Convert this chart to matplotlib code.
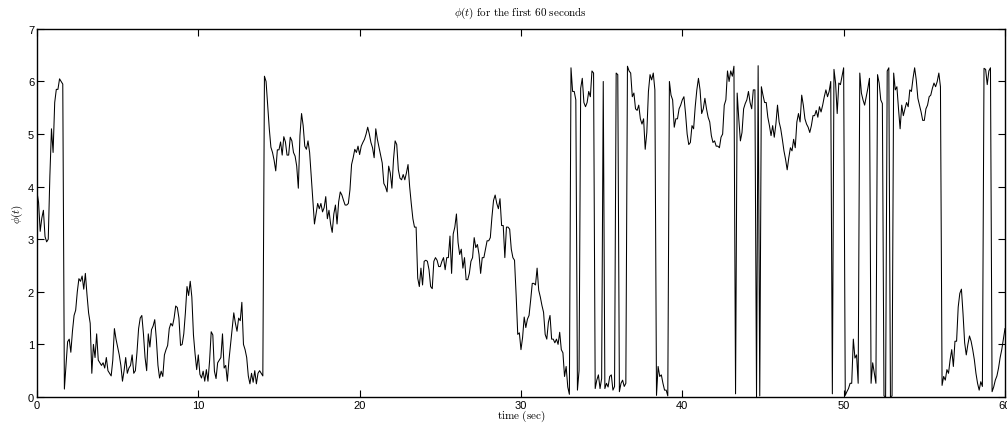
# Recreates a MATLAB-style plot of phi(t) for the first 60 seconds.

import numpy as np
import matplotlib
matplotlib.use("Agg")
import matplotlib.pyplot as plt

plt.rcParams["mathtext.fontset"] = "cm"
plt.rcParams["font.family"] = ["Liberation Sans", "DejaVu Sans"]

DT = 0.1

phi = [
    3.9, 3.7, 3.15, 3.4, 3.55, 3.05, 2.95, 3.0, 4.2, 5.1,          # 0
    4.65, 5.6, 5.85, 5.85, 6.05, 6.0, 5.95, 0.15, 0.6, 1.05,       # 1
    1.1, 0.85, 1.25, 1.55, 1.65, 2.0, 2.25, 2.2, 2.3, 2.05,        # 2
    2.35, 1.95, 1.6, 1.4, 0.45, 1.0, 0.75, 1.2, 0.7, 0.65,         # 3
    0.6, 0.65, 0.55, 0.75, 0.5, 0.45, 0.4, 0.7, 1.3, 1.1,          # 4
    0.95, 0.8, 0.6, 0.3, 0.5, 0.75, 0.45, 0.55, 0.6, 0.8,          # 5
    0.45, 0.5, 0.85, 1.3, 1.5, 1.55, 1.2, 0.75, 0.5, 1.2,          # 6
    0.95, 1.28, 1.35, 1.47, 1.1, 0.6, 0.36, 0.49, 0.39, 0.8,       # 7
    0.9, 0.98, 1.3, 1.4, 1.35, 1.5, 1.73, 1.7, 1.5, 0.98,          # 8
    1.0, 1.2, 1.6, 2.1, 1.93, 2.2, 1.9, 1.18, 0.82, 0.52,          # 9
    0.8, 0.43, 0.36, 0.49, 0.3, 0.52, 0.3, 0.69, 1.24, 1.18,       # 10
    0.49, 0.35, 0.65, 0.7, 0.75, 1.2, 0.55, 0.6, 0.3, 0.7,         # 11
    1.0, 1.3, 1.6, 1.4, 1.25, 1.5, 1.45, 1.8, 1.0, 0.9,            # 12
    0.75, 0.4, 0.25, 0.45, 0.28, 0.5, 0.25, 0.45, 0.5, 0.45,       # 13
    0.4, 6.1, 6.0, 5.55, 5.1, 4.75, 4.65, 4.5, 4.3, 4.7,           # 14
    4.7, 4.85, 4.6, 4.95, 4.85, 4.6, 4.6, 4.94, 4.87, 4.65,        # 15
    4.58, 4.39, 3.97, 4.97, 5.39, 5.16, 4.77, 4.71, 4.87, 4.65,    # 16
    4.19, 3.74, 3.29, 3.48, 3.68, 3.58, 3.68, 3.52, 3.6, 3.81,     # 17
    3.39, 3.55, 3.29, 3.13, 3.48, 3.65, 3.29, 3.71, 3.9, 3.84,     # 18
    3.74, 3.65, 3.65, 3.68, 3.94, 4.42, 4.55, 4.71, 4.65, 4.77,    # 19
    4.61, 4.77, 4.84, 4.9, 5.0, 5.13, 5.0, 4.84, 4.74, 4.55,       # 20
    5.1, 4.9, 4.75, 4.6, 4.45, 4.06, 4.0, 3.9, 4.39, 4.26,         # 21
    3.97, 4.52, 4.87, 4.8, 4.32, 4.16, 4.13, 4.23, 4.13, 4.26,     # 22
    4.42, 4.0, 3.68, 3.39, 3.23, 3.23, 2.26, 2.1, 2.45, 2.13,      # 23
    2.58, 2.6, 2.58, 2.42, 2.1, 2.06, 2.58, 2.65, 2.6, 2.48,       # 24
    2.48, 2.58, 2.65, 2.42, 2.65, 2.65, 3.06, 2.35, 3.1, 3.23,     # 25
    3.48, 2.94, 2.71, 2.81, 2.45, 2.65, 2.23, 2.23, 2.35, 2.58,    # 26
    2.65, 3.03, 2.84, 2.9, 2.71, 2.35, 2.65, 2.65, 2.81, 2.97,     # 27
    2.97, 3.03, 3.42, 3.74, 3.84, 3.68, 3.58, 3.77, 3.26, 3.26,    # 28
    2.65, 3.23, 3.23, 3.19, 2.81, 2.65, 2.6, 1.94, 1.19, 1.22,     # 29
    0.9, 1.13, 1.52, 1.32, 1.48, 1.55, 1.84, 2.16, 2.16, 2.13,     # 30
    2.45, 2.03, 1.9, 1.74, 1.61, 1.19, 1.1, 1.42, 1.55, 1.1,       # 31
    1.1, 1.03, 1.1, 1.0, 1.23, 0.9, 0.84, 0.39, 0.58, 0.19,        # 32
    0.05, 6.26, 5.81, 5.81, 5.65, 0.13, 0.5, 5.87, 6.06, 5.6,      # 33
    5.52, 5.6, 5.81, 5.71, 6.2, 6.16, 0.16, 0.32, 0.42, 0.16,      # 34
    0.35, 6.0, 0.16, 0.26, 0.19, 0.39, 0.42, 0.13, 0.2, 6.16,      # 35
    6.13, 0.1, 0.26, 0.32, 0.2, 0.26, 6.29, 6.2, 6.16, 5.71,       # 36
    5.78, 5.48, 5.45, 5.55, 5.29, 5.19, 5.29, 4.71, 5.03, 5.81,    # 37
    6.13, 6.03, 6.16, 5.84, 0.03, 0.58, 0.39, 0.42, 0.26, 0.13,    # 38
    0.13, 0.02, 6.0, 5.74, 5.65, 5.13, 5.29, 5.29, 5.48, 5.55,     # 39
    5.65, 5.71, 5.39, 5.0, 4.8, 4.84, 5.16, 5.1, 5.52, 5.84,       # 40
    6.06, 5.84, 5.39, 5.48, 5.68, 5.48, 5.32, 5.23, 4.97, 4.84,    # 41
    4.87, 4.77, 4.77, 4.74, 4.94, 5.0, 5.55, 5.65, 6.2, 6.0,       # 42
    6.2, 6.1, 6.29, 0.06, 5.78, 5.29, 4.87, 5.03, 5.48, 5.58,      # 43
    5.65, 5.81, 5.6, 5.48, 5.84, 5.84, 0.0, 6.3, 0.02, 5.9,        # 44
    5.74, 5.6, 5.6, 5.32, 5.16, 4.97, 5.16, 4.94, 5.19, 5.55,      # 45
    5.23, 5.1, 4.9, 4.68, 4.52, 4.32, 4.55, 4.74, 4.68, 4.9,       # 46
    4.74, 5.23, 5.39, 5.23, 5.74, 5.55, 5.29, 5.19, 5.13, 5.03,    # 47
    5.16, 5.35, 5.35, 5.45, 5.32, 5.52, 5.42, 5.55, 5.71, 5.84,    # 48
    5.71, 5.81, 6.0, 0.06, 6.23, 5.97, 5.39, 5.97, 5.94, 6.1,      # 49
    6.26, 0.03, 0.1, 0.16, 0.26, 0.26, 1.1, 0.74, 0.8, 0.26,       # 50
    6.16, 5.78, 5.65, 5.55, 5.71, 5.87, 6.06, 0.26, 0.65, 0.45,    # 51
    0.26, 6.13, 5.97, 5.65, 5.58, 0.02, 0.0, 6.2, 6.26, 0.0,       # 52
    0.02, 6.16, 5.84, 5.9, 5.48, 5.1, 5.55, 5.35, 5.48, 5.6,       # 53
    5.52, 5.84, 5.81, 6.06, 6.26, 6.03, 5.68, 5.55, 5.42, 5.26,    # 54
    5.26, 5.48, 5.55, 5.71, 5.74, 5.87, 5.97, 5.9, 6.0, 6.16,      # 55
    5.9, 0.22, 0.39, 0.32, 0.52, 0.45, 0.71, 0.9, 0.58, 1.06,      # 56
    1.06, 1.71, 1.97, 2.05, 1.58, 1.03, 0.8, 1.0, 1.16, 1.06,      # 57
    0.9, 0.71, 0.45, 0.26, 0.13, 0.29, 0.2, 6.25, 6.23, 5.94,      # 58
    6.2, 6.26, 0.1, 0.19, 0.32, 0.4, 0.55, 0.75, 0.9, 1.1,         # 59
    1.3,                                                           # 60
]

x_ticks = [0, 10, 20, 30, 40, 50, 60]
y_ticks = [0, 1, 2, 3, 4, 5, 6, 7]

t = np.arange(len(phi)) * DT

# Plot

fig = plt.figure(figsize=(10.07, 4.27), dpi=100)
ax = fig.add_axes([0.0367, 0.068, 0.9613, 0.862])

ax.plot(t, phi, color="black", linewidth=0.75)

ax.set_xlim(0, 60)
ax.set_ylim(0, 7)
ax.set_xticks(x_ticks)
ax.set_yticks(y_ticks)
ax.tick_params(direction="in", top=True, right=True, length=5, width=0.8,
               labelsize=8, pad=2)
for sp in ax.spines.values():
    sp.set_linewidth(1.0)

ax.set_title(r"$\phi(t)\ \mathrm{for\ the\ first\ 60\ seconds}$", fontsize=8, pad=10)
ax.set_xlabel(r"$\mathrm{time\ (sec)}$", fontsize=8, labelpad=-1.5)
ax.set_ylabel(r"$\phi(t)$", fontsize=8, labelpad=2)

fig.savefig("out.png", dpi=100)
